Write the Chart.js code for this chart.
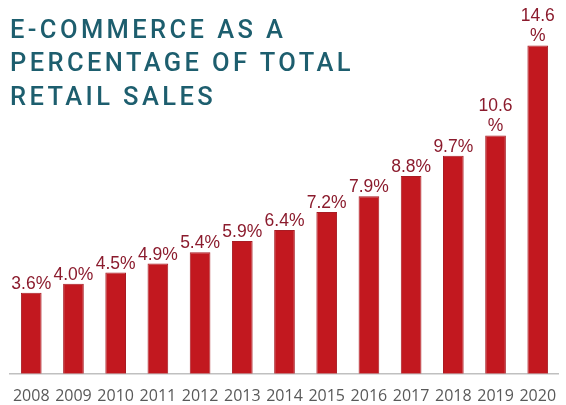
<!DOCTYPE html>
<html>
<head>
<meta charset="utf-8">
<script src="https://cdn.jsdelivr.net/npm/chart.js@4/dist/chart.umd.min.js"></script>
<style>
  html, body { margin: 0; padding: 0; background: #fff; overflow: hidden; }
  #wrap { position: relative; width: 569px; height: 405px; }
  #title {
    position: absolute; left: 10px; top: 13px; margin: 0;
    font: 500 25.5px/33.3px 'Roboto', sans-serif; letter-spacing: 3.4px;
    color: #1d5e6e; pointer-events: none;
  }
</style>
</head>
<body>
<div id="wrap">
  <canvas id="chart"></canvas>
  <h1 id="title">E-COMMERCE AS A<br>PERCENTAGE OF TOTAL<br>RETAIL SALES</h1>
</div>
<script>
  // values
  var years  = ['2008', '2009', '2010', '2011', '2012', '2013', '2014',
                '2015', '2016', '2017', '2018', '2019', '2020'];
  var shares = [3.6, 4.0, 4.5, 4.9, 5.4, 5.9, 6.4, 7.2, 7.9, 8.8, 9.7, 10.6, 14.6];

  var RED = '#c2181f', LABEL = '#8b1b2d';

  /* value labels above each bar; wrap the "%" when the text is wider than the slot */
  var barLabels = {
    id: 'barLabels',
    afterDatasetsDraw: function (chart) {
      var ctx = chart.ctx;
      var meta = chart.getDatasetMeta(0);
      var x = chart.scales.x;
      var slot = (x.right - x.left) / years.length;
      ctx.save();
      ctx.font = "17.5px 'Liberation Sans', Arial, sans-serif";
      ctx.fillStyle = LABEL;
      ctx.textAlign = 'center';
      ctx.textBaseline = 'alphabetic';
      meta.data.forEach(function (bar, i) {
        var txt = shares[i].toFixed(1) + '%';
        var lines = ctx.measureText(txt).width > slot
          ? [shares[i].toFixed(1), '%'] : [txt];
        var base = bar.y - 4;
        for (var k = lines.length - 1; k >= 0; k--) {
          ctx.fillText(lines[k], bar.x, base);
          base -= 20;
        }
      });
      ctx.restore();
    }
  };

  new Chart(document.getElementById('chart'), {
    type: 'bar',
    data: {
      labels: years,
      datasets: [{
        data: shares,
        backgroundColor: RED,
        borderColor: '#a81c24',
        borderWidth: 1,
        barPercentage: 0.49,
        categoryPercentage: 1
      }]
    },
    options: {
      responsive: true,
      maintainAspectRatio: false,
      animation: false,
      layout: { padding: { top: 14, left: 9, right: 0, bottom: -14 } },
      plugins: { legend: { display: false }, tooltip: { enabled: false } },
      scales: {
        x: {
          grid: { display: false, drawTicks: false },
          border: { display: true, color: '#c0c0c0', width: 1.5 },
          ticks: {
            color: '#595959', padding: 13,
            font: { family: "'Open Sans', sans-serif", size: 16 }
          }
        },
        y: { display: false, min: 0, max: 16 }
      }
    },
    plugins: [barLabels]
  });
</script>
</body>
</html>
